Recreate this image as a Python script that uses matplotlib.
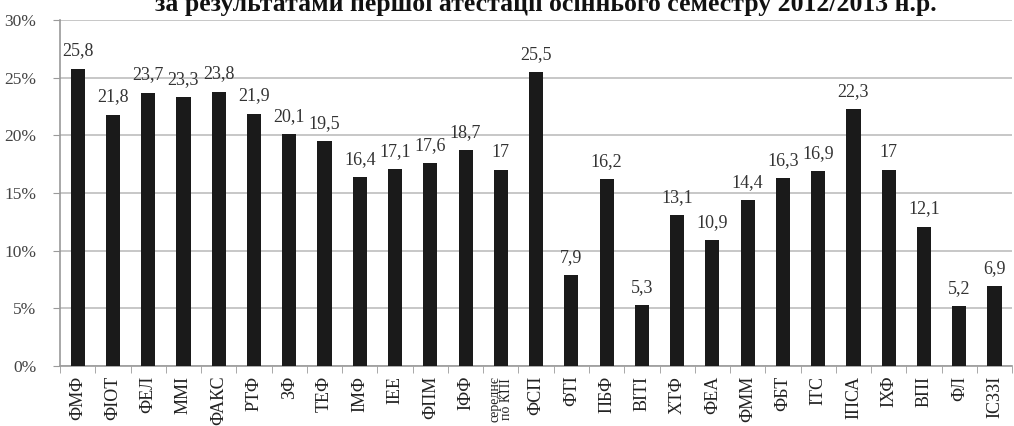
import matplotlib.pyplot as plt
from matplotlib.ticker import FixedLocator

plt.rcParams['font.family'] = ['Liberation Serif', 'DejaVu Serif']

faculties = ['ФМФ', 'ФІОТ', 'ФЕЛ', 'ММІ', 'ФАКС', 'РТФ', 'ЗФ', 'ТЕФ', 'ІМФ', 'ІЕЕ',
             'ФПМ', 'ІФФ', 'середнє\nпо КПІ', 'ФСП', 'ФТІ', 'ПБФ', 'ВІТІ', 'ХТФ', 'ФЕА',
             'ФММ', 'ФБТ', 'ІТС', 'ІПСА', 'ІХФ', 'ВПІ', 'ФЛ', 'ІСЗЗІ']
share = [25.8, 21.8, 23.7, 23.3, 23.8, 21.9, 20.1, 19.5, 16.4, 17.1,
         17.6, 18.7, 17.0, 25.5, 7.9, 16.2, 5.3, 13.1, 10.9,
         14.4, 16.3, 16.9, 22.3, 17.0, 12.1, 5.2, 6.9]

fig = plt.figure(figsize=(10.14, 4.26), dpi=100)
ax = fig.add_axes([0.0592, 0.1408, 0.939, 0.812])

x = list(range(len(share)))
ax.bar(x, share, width=0.4, color='#1a1a1a', zorder=3)
for xi, v in zip(x, share):
    ax.text(xi, v + 0.8, f'{v:g}'.replace('.', ','), ha='center', va='bottom',
            fontsize=13, color='#333333', zorder=4)

ax.set_xlim(-0.5, len(share) - 0.5)
ax.set_ylim(0, 30)
ax.set_yticks(range(0, 31, 5))
ax.set_yticklabels([f'{t}%' for t in range(0, 31, 5)], fontsize=12.5, color='#444444')
ax.yaxis.grid(True, color='#bdbdbd', linewidth=1.2, zorder=0)

ax.set_xticks(x)
ax.set_xticklabels(faculties, rotation=90, fontsize=13, color='#222222',
                   va='top', linespacing=0.8)
# підпис середнього значення у два рядки, дрібніше
avg_label = ax.get_xticklabels()[faculties.index('середнє\nпо КПІ')]
avg_label.set_fontsize(10)
ax.xaxis.set_minor_locator(FixedLocator([i - 0.5 for i in range(len(share) + 1)]))
ax.tick_params(axis='x', which='major', length=0, pad=7)
ax.tick_params(axis='x', which='minor', length=5, color='#9a9a9a')
ax.tick_params(axis='y', length=5, color='#9a9a9a', pad=12)

for side in ['top', 'right']:
    ax.spines[side].set_visible(False)
for side in ['left', 'bottom']:
    ax.spines[side].set_color('#9a9a9a')
    ax.spines[side].set_linewidth(1.2)

fig.text(0.538, 0.99, 'за результатами першої атестації осіннього семестру 2012/2013 н.р.',
         ha='center', va='center', fontsize=18.5, fontweight='bold', color='#111111')

fig.savefig('out.png', dpi=100)
